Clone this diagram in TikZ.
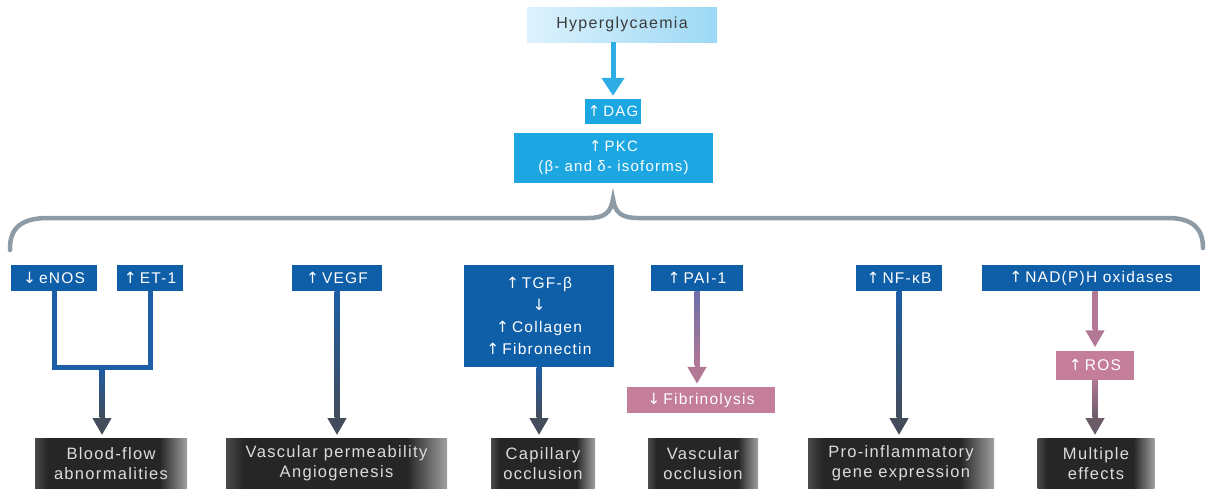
\documentclass[tikz,border=0pt]{standalone}
\usepackage{fontspec}
\setmainfont{Liberation Sans}[LetterSpace=8]
\newfontfamily\arrfont{DejaVu Sans}
\usetikzlibrary{arrows.meta,calc}
\definecolor{hypL}{HTML}{DDF2FC}
\definecolor{hypR}{HTML}{9CD8F4}
\definecolor{hyptext}{HTML}{3C3C3C}
\definecolor{cyanbox}{HTML}{1CA6E2}
\definecolor{cyanarr}{HTML}{2EADE5}
\definecolor{dblue}{HTML}{0E5EA8}
\definecolor{arrblue}{HTML}{1D5EA6}
\definecolor{slate}{HTML}{434C5A}
\definecolor{pinkbox}{HTML}{C47E99}
\definecolor{pinkarr}{HTML}{B27895}
\definecolor{purparr}{HTML}{6C6FA8}
\definecolor{mauvegray}{HTML}{6C5C68}
\definecolor{bracec}{HTML}{8D9BA7}
\definecolor{bbdark}{HTML}{262626}
\definecolor{bbleft}{HTML}{4A4A4A}
\definecolor{bbright}{HTML}{A0A0A0}
\definecolor{bbtext}{HTML}{DCDCDC}
\pgfdeclarehorizontalshading{bottomshade}{100bp}{color(0bp)=(bbleft); color(25bp)=(bbleft); color(29bp)=(bbdark); color(66bp)=(bbdark); color(75bp)=(bbright); color(100bp)=(bbright)}
\newcommand\UpA{{\arrfont ↑}\hspace{3pt}}
\newcommand\DnA{{\arrfont ↓}\hspace{3pt}}
\tikzset{
  lbl/.style={rectangle, inner sep=0pt, minimum height=26pt, text=white, font=\fontsize{15.5}{18}\selectfont},
  bluelbl/.style={lbl, fill=dblue},
  cyanlbl/.style={lbl, fill=cyanbox, font=\fontsize{15}{20}\selectfont},
  pinklbl/.style={lbl, fill=pinkbox},
  outcome/.style={rectangle, inner sep=0pt, anchor=north, minimum height=50pt, shading=bottomshade, text=bbtext, align=center, font=\fontsize{16.5}{20}\selectfont},
  shaftline/.style={line width=5pt},
  arrowtip/.style={-{Triangle[width=18pt,length=17pt]}},
  bracestyle/.style={draw=bracec, line width=4.5pt, line cap=round}
}
\newcommand\garrow[4]{%
  \draw[shaftline, draw=#4, arrowtip, shorten >=3pt] (#1) -- (#1 |- #2);
  \shade[top color=#3, bottom color=#4] ($(#1)+(-2.5,0)$) rectangle ($(#1 |- #2)+(2.5,-21)$);
}
\begin{document}
\begin{tikzpicture}[x=1pt,y=-1pt]
\useasboundingbox (0,0) rectangle (1206,488);
% top
\node[lbl, left color=hypL, right color=hypR, text=hyptext, minimum width=190pt, minimum height=35pt, font=\fontsize{16}{18}\selectfont] (hyper) at (622,24.5) {Hyperglycaemia};
\node[cyanlbl, minimum width=56pt, minimum height=25pt] (dag) at (613,111.5) {\UpA DAG};
\node[cyanlbl, minimum width=199pt, minimum height=50pt, align=center] (pkc) at (613.5,158) {\UpA PKC\\(β- and δ- isoforms)};
\draw[shaftline, draw=cyanarr, -{Triangle[width=22pt,length=18pt]}, shorten >=3pt] (dag.north |- hyper.south) -- (dag.north);
% brace
\coordinate (bracetip) at (613,199);
\draw[bracestyle] (10,250) -- (10,246) .. controls (11,226) and (24,218) .. (48,218) -- (588,218) .. controls (604,218) and (611,213) .. (bracetip) .. controls (615,213) and (622,218) .. (638,218) -- (1168,218) .. controls (1192,218) and (1203,228) .. (1203,248);
% top labels
\node[bluelbl, minimum width=86pt] (enos) at (54,278) {\DnA eNOS};
\node[bluelbl, minimum width=66pt] (et1) at (150,278) {\UpA ET-1};
\node[bluelbl, minimum width=90pt] (vegf) at (337,278) {\UpA VEGF};
\node[bluelbl, minimum width=150pt, minimum height=102pt, align=center, font=\fontsize{15.5}{22}\selectfont] (tgf) at (539,316) {\UpA TGF-β\\{\arrfont ↓}\\\UpA Collagen\\\UpA Fibronectin};
\node[bluelbl, minimum width=92pt] (pai) at (697,278) {\UpA PAI-1};
\node[bluelbl, minimum width=86pt] (nfkb) at (899,278) {\UpA NF-κB};
\node[bluelbl, minimum width=218pt] (nad) at (1091,278) {\UpA NAD(P)H oxidases};
\node[pinklbl, minimum width=78pt, minimum height=29pt] (ros) at (1095,365) {\UpA ROS};
\node[pinklbl, minimum width=148pt] (fib) at (701,400) {\DnA Fibrinolysis};
% outcomes
\node[outcome, minimum width=152pt] (blood) at (111,438) {Blood-flow\\abnormalities};
\node[outcome, minimum width=221pt] (vperm) at (336.5,438) {Vascular permeability\\Angiogenesis};
\node[outcome, minimum width=104pt] (cap) at (543,438) {Capillary\\occlusion};
\node[outcome, minimum width=110pt] (vocc) at (703,438) {Vascular\\occlusion};
\node[outcome, minimum width=186pt] (proinf) at (901,438) {Pro-inflammatory\\gene expression};
\node[outcome, minimum width=117pt] (mult) at (1096,438) {Multiple\\effects};
% connectors
\coordinate (jm) at (102,367);
\draw[shaftline, draw=arrblue] (enos.south) |- (jm) -| (et1.south);
\garrow{jm}{blood.north}{arrblue}{slate}
\garrow{vegf.south}{vperm.north}{arrblue}{slate}
\garrow{tgf.south}{cap.north}{arrblue}{slate}
\garrow{pai.south}{fib.north}{purparr}{pinkarr}
\garrow{nfkb.south}{proinf.north}{arrblue}{slate}
\coordinate (nadout) at (ros.north |- nad.south);
\garrow{nadout}{ros.north}{pinkarr}{pinkarr}
\garrow{ros.south}{mult.north}{pinkarr}{mauvegray}
\end{tikzpicture}
\end{document}
